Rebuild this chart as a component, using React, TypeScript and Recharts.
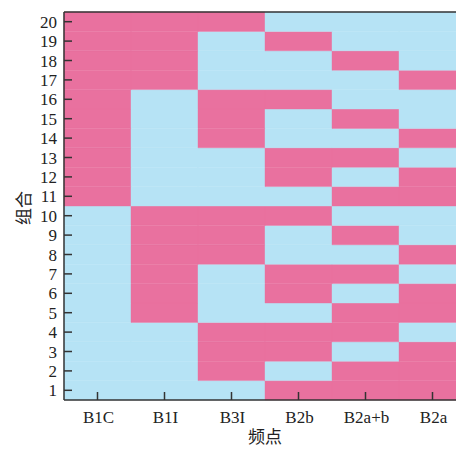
import { BarChart, Bar, Cell, XAxis, YAxis, ReferenceLine, Label } from 'recharts';

const categories = ['B1C', 'B1I', 'B3I', 'B2b', 'B2a+b', 'B2a'];

// 1 = 选中 (pink), 0 = 未选 (blue); rows are 组合 1..20, columns follow categories
const combos: number[][] = [
  [0, 0, 0, 1, 1, 1],
  [0, 0, 1, 0, 1, 1],
  [0, 0, 1, 1, 0, 1],
  [0, 0, 1, 1, 1, 0],
  [0, 1, 0, 0, 1, 1],
  [0, 1, 0, 1, 0, 1],
  [0, 1, 0, 1, 1, 0],
  [0, 1, 1, 0, 0, 1],
  [0, 1, 1, 0, 1, 0],
  [0, 1, 1, 1, 0, 0],
  [1, 0, 0, 0, 1, 1],
  [1, 0, 0, 1, 0, 1],
  [1, 0, 0, 1, 1, 0],
  [1, 0, 1, 0, 0, 1],
  [1, 0, 1, 0, 1, 0],
  [1, 0, 1, 1, 0, 0],
  [1, 1, 0, 0, 0, 1],
  [1, 1, 0, 0, 1, 0],
  [1, 1, 0, 1, 0, 0],
  [1, 1, 1, 0, 0, 0],
];

const rowTicks = combos.map((_, i) => i + 0.5);

const PINK = '#E9719F';
const BLUE = '#B6E3F5';
const AXIS = '#333';
const SERIF = '"Liberation Serif", "Times New Roman", serif';
const CJK = '"Noto Sans CJK SC", sans-serif';

const data = categories.map((name) => {
  const row: Record<string, number | string> = { name };
  combos.forEach((_, i) => {
    row[`r${i}`] = 1;
  });
  return row;
});

const XTick = ({ x, y, payload }: any) => (
  <g>
    <line x1={x} y1={y} x2={x} y2={y - 8} stroke={AXIS} strokeWidth={1.5} />
    <text x={x + 1} y={y + 23} textAnchor="middle" fontFamily={SERIF} fontSize={17} fill="#222">
      {payload.value}
    </text>
  </g>
);

const YTick = ({ x, y, payload }: any) => (
  <g>
    <line x1={x} y1={y} x2={x + 8} y2={y} stroke={AXIS} strokeWidth={1.5} />
    <text x={x - 7} y={y + 6} textAnchor="end" fontFamily={SERIF} fontSize={17} fill="#222">
      {Math.round(payload.value + 0.5)}
    </text>
  </g>
);

const App = () => {
  return (
    <div style={{ position: 'absolute', left: 0, top: 0, width: 456, height: 452, overflow: 'hidden', background: '#fff' }}>
      <BarChart
        width={472}
        height={452}
        data={data}
        margin={{ top: 12, right: 6, bottom: 0, left: 0 }}
        barCategoryGap={0}
        barGap={0}
      >
        {combos.map((row, i) => (
          <Bar key={i} dataKey={`r${i}`} stackId="a" isAnimationActive={false}>
            {categories.map((c, j) => (
              <Cell key={c} fill={row[j] ? PINK : BLUE} stroke={row[j] ? PINK : BLUE} strokeWidth={0.4} />
            ))}
          </Bar>
        ))}
        <ReferenceLine y={20} stroke={AXIS} strokeWidth={1.5} />
        <XAxis
          dataKey="name"
          type="category"
          height={52}
          tickSize={0}
          tickMargin={0}
          tickLine={false}
          axisLine={{ stroke: AXIS, strokeWidth: 1.5 }}
          tick={<XTick />}
          interval={0}
        >
          <Label
            content={({ viewBox }: any) => (
              <text
                x={viewBox.x + viewBox.width / 2}
                y={viewBox.y + 43}
                textAnchor="middle"
                fontFamily={CJK}
                fontSize={17}
                fill="#222"
              >
                频点
              </text>
            )}
          />
        </XAxis>
        <YAxis
          type="number"
          domain={[0, 20]}
          ticks={rowTicks}
          width={64}
          tickSize={0}
          tickMargin={0}
          tickLine={false}
          axisLine={{ stroke: AXIS, strokeWidth: 1.5 }}
          tick={<YTick />}
          interval={0}
        >
          <Label
            content={({ viewBox }: any) => {
              const cx = 22;
              const cy = viewBox.y + viewBox.height / 2 + 2;
              return (
                <text
                  x={cx}
                  y={cy}
                  transform={`rotate(-90 ${cx} ${cy})`}
                  textAnchor="middle"
                  dominantBaseline="central"
                  fontFamily={CJK}
                  fontSize={17}
                  fill="#222"
                >
                  组合
                </text>
              );
            }}
          />
        </YAxis>
      </BarChart>
    </div>
  );
};

export default App;
